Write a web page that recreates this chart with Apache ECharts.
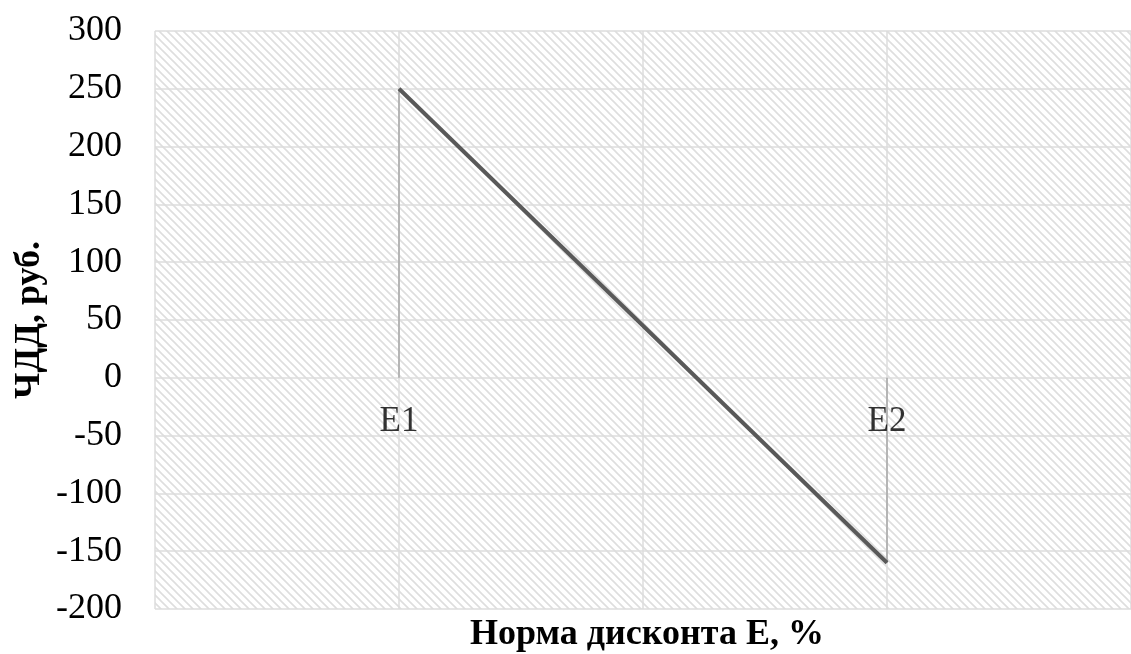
<!DOCTYPE html>
<html>
<head>
<meta charset="utf-8">
<script src="https://cdn.jsdelivr.net/npm/echarts@6/dist/echarts.min.js"></script>
<style>
  html, body { margin: 0; padding: 0; background: #fff; }
  #chart { width: 1131px; height: 654px; }
</style>
</head>
<body>
<div id="chart"></div>
<script>
// данные графика ЧДД
const pointNames = ['E1', 'E2']
const pointRates = [1, 3]          // положение E1, E2 по оси X
const npvValues = [250, -160]      // ЧДД в точках E1, E2
const yTicks = [-200, -150, -100, -50, 0, 50, 100, 150, 200, 250, 300]
const xTicks = [0, 1, 2, 3, 4]

const FONT = '"Liberation Serif", "Times New Roman", serif'

// штриховка фона области построения
function makeHatch() {
  const c = document.createElement('canvas')
  c.width = 8
  c.height = 8
  const ctx = c.getContext('2d')
  ctx.fillStyle = '#ffffff'
  ctx.fillRect(0, 0, 8, 8)
  ctx.strokeStyle = '#dedede'
  ctx.lineWidth = 1.6
  ctx.beginPath()
  ctx.moveTo(-1, -1); ctx.lineTo(9, 9)
  ctx.moveTo(7, -1); ctx.lineTo(9, 1)
  ctx.moveTo(-1, 7); ctx.lineTo(1, 9)
  ctx.stroke()
  return c
}

const chart = echarts.init(document.getElementById('chart'))

const mainLine = pointRates.map((x, i) => [x, npvValues[i]])
const dropSeries = pointRates.map((x, i) => ({
  type: 'line',
  data: [[x, 0], [x, npvValues[i]]],
  symbol: 'none',
  silent: true,
  lineStyle: { color: '#a6a6a6', width: 1.5 },
  z: 2
}))

const option = {
  animation: false,
  backgroundColor: '#ffffff',
  grid: {
    show: true,
    left: 155,
    top: 31,
    width: 984,
    height: 578,
    borderWidth: 0,
    backgroundColor: { image: makeHatch(), repeat: 'repeat' }
  },
  xAxis: {
    type: 'value',
    min: xTicks[0],
    max: xTicks[xTicks.length - 1],
    interval: 1,
    axisLine: { show: false },
    axisTick: { show: false },
    axisLabel: { show: false },
    splitLine: { show: true, lineStyle: { color: '#dcdcdc', width: 1.5 } }
  },
  yAxis: {
    type: 'value',
    min: yTicks[0],
    max: yTicks[yTicks.length - 1],
    interval: 50,
    axisLine: { show: false },
    axisTick: { show: false },
    axisLabel: {
      margin: 33,
      color: '#000',
      fontFamily: FONT,
      fontSize: 36
    },
    splitLine: { show: true, lineStyle: { color: '#dcdcdc', width: 1.5 } }
  },
  graphic: [
    {
      type: 'text',
      x: 647,
      y: 635,
      style: {
        text: 'Норма дисконта Е, %',
        font: 'bold 36px ' + FONT,
        fill: '#000',
        align: 'center',
        verticalAlign: 'middle'
      }
    },
    {
      type: 'text',
      x: 30,
      y: 320,
      rotation: Math.PI / 2,
      style: {
        text: 'ЧДД, руб.',
        font: 'bold 36px ' + FONT,
        fill: '#000',
        align: 'center',
        verticalAlign: 'middle'
      }
    }
  ],
  series: [
    ...dropSeries,
    {
      type: 'line',
      data: mainLine,
      symbol: 'none',
      lineStyle: { color: '#595959', width: 4 },
      z: 3
    },
    {
      // подписи E1, E2
      type: 'scatter',
      data: pointRates.map((x) => [x, 0]),
      symbolSize: 0,
      label: {
        show: true,
        position: 'inside',
        offset: [0, 44],
        formatter: (p) => pointNames[p.dataIndex],
        color: '#000',
        fontFamily: FONT,
        fontSize: 35
      },
      z: 4
    }
  ]
}
chart.setOption(option)
</script>
</body>
</html>
